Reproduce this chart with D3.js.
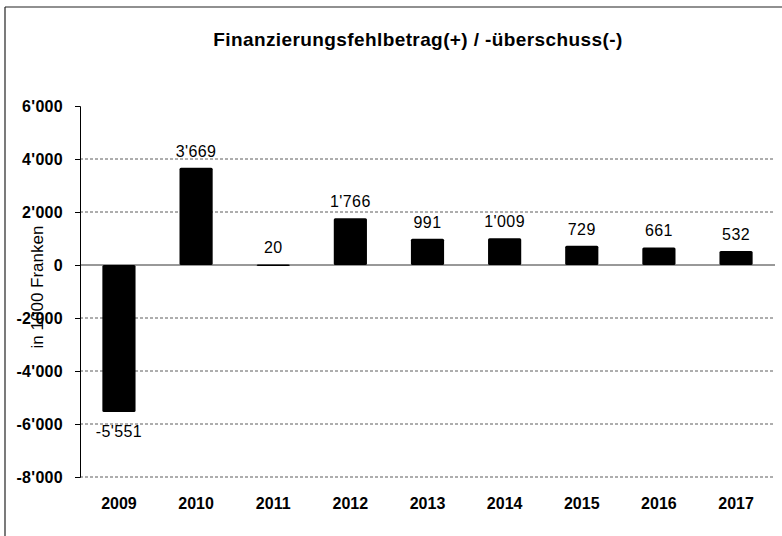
<!DOCTYPE html>
<html>
<head>
<meta charset="utf-8">
<script src="https://cdn.jsdelivr.net/npm/d3@7"></script>
<style>
  body { margin: 0; background: #fff; }
  text { font-family: "Liberation Sans", Arial, sans-serif; fill: #000; }
</style>
</head>
<body>
<svg id="chart"></svg>
<script>
const years = ['2009', '2010', '2011', '2012', '2013', '2014', '2015', '2016', '2017'];
const values = [-5551, 3669, 20, 1766, 991, 1009, 729, 661, 532];
const yTicks = [6000, 4000, 2000, 0, -2000, -4000, -6000, -8000];

const width = 782, height = 536;
const margin = { top: 106, right: 7, bottom: 59, left: 80 };

const swiss = d3.formatLocale({ decimal: '.', thousands: "'", grouping: [3], currency: ['', ''], minus: '-' });
const fmt = swiss.format(',d');

const svg = d3.select('#chart')
    .attr('width', width)
    .attr('height', height);

// scan frame
svg.append('line').attr('x1', 5).attr('x2', width).attr('y1', 7).attr('y2', 7)
    .attr('stroke', '#222').attr('stroke-width', 1.2);
svg.append('line').attr('x1', 5).attr('x2', 5).attr('y1', 7).attr('y2', height)
    .attr('stroke', '#222').attr('stroke-width', 1.2);

svg.append('text')
    .attr('x', 418).attr('y', 46)
    .attr('text-anchor', 'middle')
    .style('font-size', '19px').style('font-weight', 'bold')
    .style('letter-spacing', '0.4px')
    .text('Finanzierungsfehlbetrag(+) / -überschuss(-)');

const x = d3.scaleBand()
    .domain(years)
    .range([margin.left, width - margin.right])
    .paddingInner(0.57)
    .paddingOuter(0.29);

const y = d3.scaleLinear()
    .domain([-8000, 6000])
    .range([height - margin.bottom, margin.top]);

// gridlines
svg.append('g')
    .selectAll('line')
    .data(yTicks.filter(d => d !== 6000))
    .join('line')
    .attr('x1', margin.left).attr('x2', width - margin.right)
    .attr('y1', d => y(d)).attr('y2', d => y(d))
    .attr('stroke', '#333')
    .attr('stroke-width', d => d === 0 ? 1 : 0.8)
    .attr('stroke-dasharray', d => d === 0 ? null : '3,2');

// y axis
const yAxis = d3.axisLeft(y)
    .tickValues(yTicks)
    .tickFormat(fmt)
    .tickSize(5)
    .tickPadding(12);

const yAxisG = svg.append('g')
    .attr('transform', `translate(${margin.left},0)`)
    .call(yAxis);
yAxisG.select('.domain').attr('stroke', '#000');
yAxisG.selectAll('.tick line').attr('stroke', '#000');
yAxisG.selectAll('.tick text')
    .style('font-size', '16px').style('font-weight', 'bold')
    .style('letter-spacing', '0.3px')
    .attr('fill', '#000');

// x labels
svg.append('g')
    .selectAll('text')
    .data(years)
    .join('text')
    .attr('x', d => x(d) + x.bandwidth() / 2)
    .attr('y', height - margin.bottom + 32)
    .attr('text-anchor', 'middle')
    .style('font-size', '16px').style('font-weight', 'bold')
    .text(d => d);

// bars
svg.append('g')
    .selectAll('rect')
    .data(values)
    .join('rect')
    .attr('x', (d, i) => x(years[i]))
    .attr('width', x.bandwidth())
    .attr('y', d => y(Math.max(0, d)))
    .attr('height', d => Math.max(1.5, Math.abs(y(d) - y(0))))
    .attr('rx', 1.5)
    .attr('fill', '#000');

// value labels
svg.append('g')
    .selectAll('text')
    .data(values)
    .join('text')
    .attr('x', (d, i) => x(years[i]) + x.bandwidth() / 2)
    .attr('y', d => d >= 0 ? y(d) - 11 : y(d) + 25)
    .attr('text-anchor', 'middle')
    .style('font-size', '16px')
    .style('letter-spacing', '0.4px')
    .text(d => fmt(d));

// y axis title
svg.append('text')
    .attr('transform', `translate(43,287) rotate(-90)`)
    .attr('text-anchor', 'middle')
    .style('font-size', '17px')
    .text('in 1000 Franken');
</script>
</body>
</html>
